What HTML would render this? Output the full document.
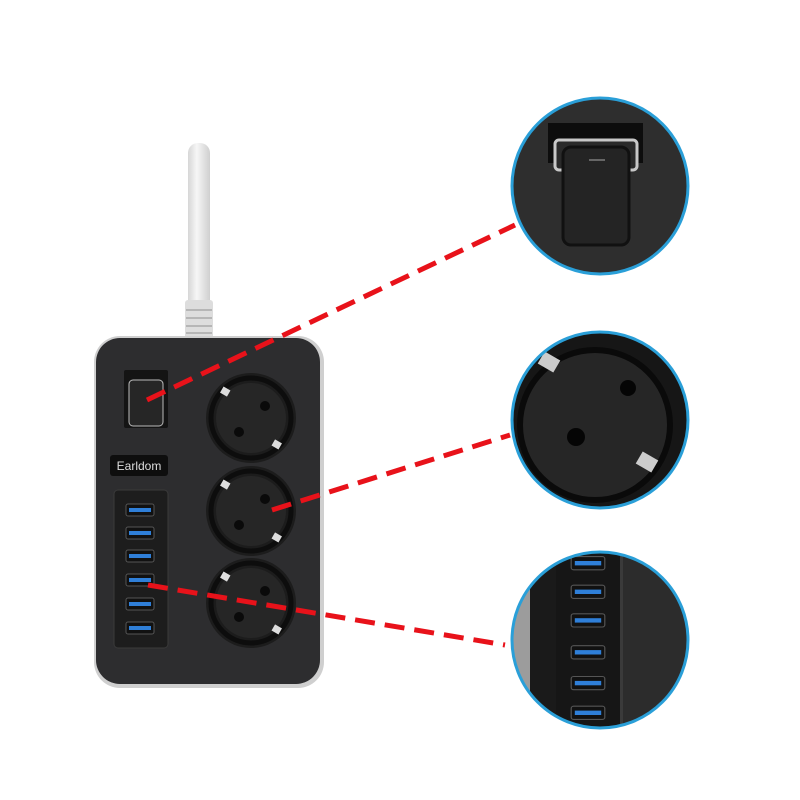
<!DOCTYPE html>
<html><head><meta charset="utf-8"><style>html,body{margin:0;padding:0;background:#fff}svg{display:block}</style></head>
<body>
<svg width="800" height="800" viewBox="0 0 800 800" xmlns="http://www.w3.org/2000/svg">
<defs>
<linearGradient id="cord" x1="0" x2="1"><stop offset="0" stop-color="#d6d6d6"/><stop offset="0.4" stop-color="#f6f6f6"/><stop offset="1" stop-color="#cfcfcf"/></linearGradient>
<g id="usb"><rect x="-14" y="-6" width="28" height="12" rx="2" fill="#111" stroke="#555" stroke-width="1"/><rect x="-11" y="-2" width="22" height="4" fill="#2f7fd8"/></g>
<g id="sock">
<circle r="45" fill="#1c1c1c"/><circle r="40" fill="none" stroke="#0d0d0d" stroke-width="5"/><circle r="35" fill="#262626"/>
<circle cx="14" cy="-12" r="5" fill="#0a0a0a"/><circle cx="-12" cy="14" r="5" fill="#0a0a0a"/>
<rect x="-30" y="-30" width="8" height="7" fill="#ddd" transform="rotate(30 -26 -26)"/>
<rect x="22" y="23" width="8" height="7" fill="#ddd" transform="rotate(30 26 26)"/>
</g>
<clipPath id="c1"><circle cx="600" cy="186" r="88"/></clipPath>
<clipPath id="c2"><circle cx="600" cy="420" r="88"/></clipPath>
<clipPath id="c3"><circle cx="600" cy="640" r="88"/></clipPath>
</defs>
<!-- cord -->
<rect x="188" y="143" width="22" height="170" rx="10" fill="url(#cord)"/>
<rect x="185" y="300" width="28" height="40" rx="3" fill="#ddd"/>
<g stroke="#aaa" stroke-width="1.5"><line x1="186" y1="310" x2="212" y2="310"/><line x1="186" y1="318" x2="212" y2="318"/><line x1="186" y1="326" x2="212" y2="326"/><line x1="186" y1="333" x2="212" y2="333"/></g>
<!-- strip -->
<rect x="94" y="336" width="230" height="352" rx="26" fill="#cfcfcf"/>
<rect x="96" y="338" width="224" height="346" rx="24" fill="#2d2d2f"/>
<!-- switch -->
<rect x="124" y="370" width="44" height="58" rx="2" fill="#141414"/>
<rect x="129" y="380" width="34" height="46" rx="4" fill="#262626" stroke="#bbb" stroke-width="1"/>
<rect x="110" y="455" width="58" height="21" rx="3" fill="#0e0e0e"/>
<text x="139" y="470" font-family="Liberation Sans, sans-serif" font-size="12" fill="#ddd" text-anchor="middle">Earldom</text>
<rect x="114" y="490" width="54" height="158" rx="4" fill="#1d1d1d" stroke="#3a3a3a"/>
<use href="#usb" x="140" y="510"/><use href="#usb" x="140" y="533"/><use href="#usb" x="140" y="556"/><use href="#usb" x="140" y="580"/><use href="#usb" x="140" y="604"/><use href="#usb" x="140" y="628"/>
<use href="#sock" x="251" y="418"/><use href="#sock" x="251" y="511"/><use href="#sock" x="251" y="603"/>
<!-- circle 1 -->
<g clip-path="url(#c1)"><rect x="500" y="90" width="200" height="200" fill="#2e2e2e"/>
<rect x="548" y="123" width="95" height="40" fill="#0d0d0d"/>
<rect x="555" y="140" width="82" height="30" rx="4" fill="#2a2a2a" stroke="#c8c8c8" stroke-width="3"/>
<rect x="563" y="147" width="66" height="98" rx="8" fill="#242424" stroke="#111" stroke-width="3"/>
<line x1="589" y1="160" x2="605" y2="160" stroke="#666" stroke-width="2"/></g>
<circle cx="600" cy="186" r="88" fill="none" stroke="#2a9fd8" stroke-width="3"/>
<!-- circle 2 -->
<g clip-path="url(#c2)"><rect x="500" y="320" width="200" height="200" fill="#161616"/>
<circle cx="595" cy="425" r="75" fill="#262626" stroke="#0a0a0a" stroke-width="6"/>
<circle cx="628" cy="388" r="8" fill="#050505"/><circle cx="576" cy="437" r="9" fill="#050505"/>
<rect x="540" y="355" width="18" height="14" fill="#ccc" transform="rotate(30 549 362)"/>
<rect x="638" y="455" width="18" height="14" fill="#ccc" transform="rotate(30 647 462)"/></g>
<circle cx="600" cy="420" r="88" fill="none" stroke="#2a9fd8" stroke-width="3"/>
<!-- circle 3 -->
<g clip-path="url(#c3)"><rect x="500" y="540" width="200" height="200" fill="#2c2c2c"/>
<rect x="500" y="540" width="30" height="200" fill="#9c9c9c"/>
<rect x="530" y="540" width="26" height="200" fill="#1a1a1a"/>
<rect x="556" y="540" width="64" height="200" fill="#161616"/>
<rect x="620" y="540" width="3" height="200" fill="#3a3a3a"/>
<g transform="translate(588 0) scale(1.2 1.1)"><use href="#usb" y="512"/><use href="#usb" y="538"/><use href="#usb" y="564"/><use href="#usb" y="593"/><use href="#usb" y="621"/><use href="#usb" y="648"/></g></g>
<circle cx="600" cy="640" r="88" fill="none" stroke="#2a9fd8" stroke-width="3"/>
<!-- dashed lines -->
<g stroke="#e8121a" stroke-width="5" stroke-dasharray="20 10" fill="none">
<line x1="147" y1="400" x2="515" y2="225"/>
<line x1="272" y1="510" x2="510" y2="435"/>
<line x1="148" y1="585" x2="505" y2="645"/>
</g>
</svg>
</body></html>
